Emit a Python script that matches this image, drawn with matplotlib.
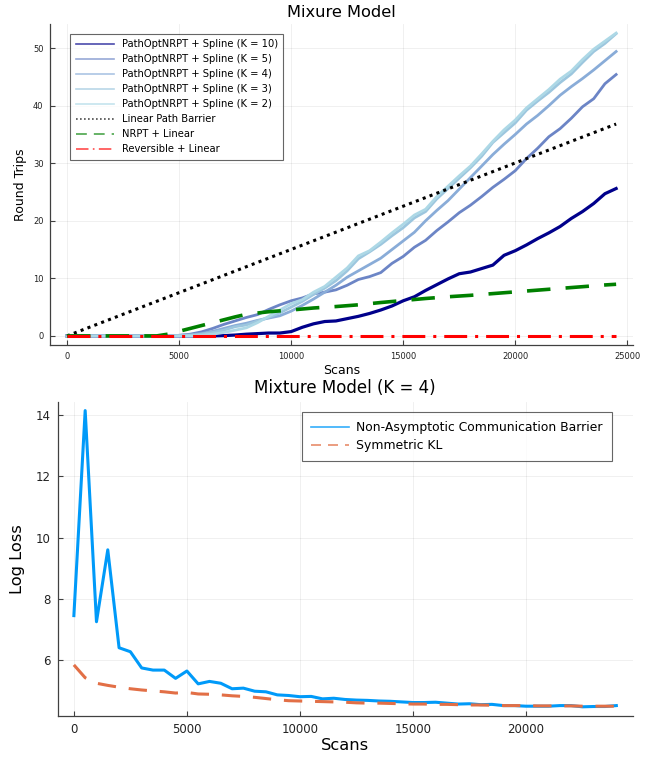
import matplotlib
matplotlib.use("Agg")
import matplotlib.pyplot as plt
import numpy as np

# ---------------- Top panel data ----------------
scans_top = list(range(0, 24501, 500))

k10 = [0, 0, 0, 0, 0, 0, 0, 0, 0, 0, 0, 0, 0, 0, 0.05, 0.15, 0.3, 0.4, 0.5, 0.5,
       0.75, 1.5, 2.1, 2.5, 2.6, 3.0, 3.4, 3.9, 4.5, 5.2, 6.1, 6.8, 7.9, 8.9, 9.9,
       10.8, 11.1, 11.7, 12.3, 14.0, 14.8, 15.8, 16.9, 17.9, 19.0, 20.4, 21.6,
       23.0, 24.7, 25.6]
k5 = [0, 0, 0, 0, 0, 0, 0, 0, 0, 0, 0.1, 0.3, 0.7, 1.3, 2.0, 2.6, 3.2, 3.7, 4.6,
      5.4, 6.1, 6.6, 7.3, 7.6, 8.0, 8.8, 9.8, 10.3, 11.0, 12.6, 13.8, 15.4, 16.6,
      18.3, 19.8, 21.4, 22.7, 24.2, 25.8, 27.2, 28.7, 30.8, 32.6, 34.6, 36.0,
      37.8, 39.8, 41.2, 43.8, 45.4]
k4 = [0, 0, 0, 0, 0, 0, 0, 0, 0, 0, 0.1, 0.2, 0.4, 0.8, 1.3, 1.8, 2.2, 2.7, 3.1,
      3.5, 4.3, 5.3, 6.4, 7.6, 8.8, 10.2, 11.3, 12.4, 13.5, 15.0, 16.5, 18.0,
      20.0, 21.8, 23.5, 25.5, 27.5, 29.5, 31.5, 33.3, 35.0, 36.8, 38.3, 40.0,
      41.8, 43.3, 44.7, 46.2, 47.8, 49.4]
k3 = [0, 0, 0, 0, 0, 0, 0, 0, 0, 0, 0, 0.1, 0.3, 0.6, 1.0, 1.6, 1.9, 2.6, 3.2,
      4.0, 5.0, 6.0, 7.2, 8.3, 9.6, 11.3, 13.4, 14.6, 15.9, 17.4, 18.8, 20.5,
      21.6, 23.8, 25.6, 27.4, 29.2, 31.2, 33.6, 35.3, 37.0, 39.2, 40.8, 42.3,
      44.0, 45.5, 47.5, 49.4, 50.8, 52.5]
k2 = [0, 0, 0, 0, 0, 0, 0, 0, 0, 0, 0, 0, 0.1, 0.3, 0.6, 1.0, 1.4, 2.3, 3.4, 4.5,
      5.6, 6.3, 7.6, 8.6, 10.2, 11.8, 13.9, 14.8, 16.3, 17.9, 19.4, 21.0, 22.0,
      24.2, 26.0, 27.8, 29.5, 31.6, 33.8, 35.8, 37.5, 39.6, 41.2, 42.8, 44.6,
      46.0, 48.0, 49.8, 51.2, 52.6]

barrier_x = [0, 24500]
barrier_y = [0, 36.8]

nrpt_x = [0, 1000, 2000, 3000, 4000, 4500, 5000, 5500, 6000, 6500, 7000, 7500,
          8000, 9000, 10000, 11000, 12000, 13000, 14000, 15000, 16000, 17000,
          18000, 19000, 20000, 21000, 22000, 23000, 24000, 24500]
nrpt_y = [0, 0, 0, 0, 0, 0.3, 0.8, 1.3, 1.8, 2.3, 2.8, 3.3, 3.75, 4.2, 4.5,
          4.85, 5.1, 5.4, 5.8, 6.15, 6.5, 6.8, 7.05, 7.35, 7.65, 7.95, 8.25,
          8.55, 8.85, 8.97]

rev_x = [0, 24500]
rev_y = [0, 0]

# ---------------- Bottom panel data ----------------
scans_bot = list(range(0, 24001, 500))
barrier_loss = [7.45, 14.15, 7.25, 9.6, 6.4, 6.27, 5.74, 5.67, 5.67, 5.40, 5.64,
                5.22, 5.30, 5.24, 5.06, 5.08, 4.98, 4.96, 4.86, 4.84, 4.80, 4.81,
                4.73, 4.75, 4.71, 4.69, 4.68, 4.66, 4.65, 4.63, 4.61, 4.61, 4.62,
                4.59, 4.56, 4.57, 4.54, 4.55, 4.51, 4.51, 4.49, 4.49, 4.49, 4.51,
                4.51, 4.47, 4.48, 4.48, 4.51]
skl_loss = [5.84, 5.42, 5.24, 5.17, 5.11, 5.06, 5.02, 4.99, 4.96, 4.92, 4.94,
            4.89, 4.88, 4.86, 4.83, 4.81, 4.78, 4.74, 4.70, 4.67, 4.66, 4.65,
            4.64, 4.63, 4.62, 4.60, 4.59, 4.59, 4.58, 4.57, 4.56, 4.56, 4.55,
            4.55, 4.54, 4.53, 4.53, 4.52, 4.51, 4.51, 4.51, 4.50, 4.50, 4.50,
            4.50, 4.49, 4.49, 4.49, 4.49]

plt.rcParams['font.family'] = ['DejaVu Sans']

fig = plt.figure(figsize=(6.5, 7.57), dpi=100)
W, H = 650, 757

def px_axes(l, t, r, b):
    return fig.add_axes([l / W, 1 - b / H, (r - l) / W, (b - t) / H])

ax1 = px_axes(50.5, 24, 632.6, 345)
ax2 = px_axes(57.6, 401.7, 632.6, 715.7)

def style(ax, tick_fs):
    for s in ['top', 'right']:
        ax.spines[s].set_visible(False)
    for s in ['left', 'bottom']:
        ax.spines[s].set_color('#404040')
        ax.spines[s].set_linewidth(0.9)
    ax.tick_params(direction='in', length=3.5, width=0.8, color='#404040',
                   labelsize=tick_fs, labelcolor='#222222', pad=5)
    ax.grid(True, color='black', alpha=0.07, linewidth=0.6)
    ax.set_axisbelow(True)

# ---- Top ----
blue_cols = {'10': '#00008b', '5': '#6c85c6', '4': '#89acd8', '3': '#9cc6de', '2': '#add8e6'}
ax1.plot(scans_top, k10, color=blue_cols['10'], lw=2.3, label='PathOptNRPT + Spline (K = 10)')
ax1.plot(scans_top, k5, color=blue_cols['5'], lw=2.0, label='PathOptNRPT + Spline (K = 5)')
ax1.plot(scans_top, k4, color=blue_cols['4'], lw=2.0, label='PathOptNRPT + Spline (K = 4)')
ax1.plot(scans_top, k3, color=blue_cols['3'], lw=2.0, label='PathOptNRPT + Spline (K = 3)')
ax1.plot(scans_top, k2, color=blue_cols['2'], lw=2.0, label='PathOptNRPT + Spline (K = 2)')
ax1.plot(barrier_x, barrier_y, color='black', lw=2.2, dashes=(1, 1.4),
         label='Linear Path Barrier')
ax1.plot(nrpt_x, nrpt_y, color='#008000', lw=2.6, dashes=(6.5, 4.2),
         label='NRPT + Linear')
ax1.plot(rev_x, rev_y, color='#ff0000', lw=2.2, dashes=(7.5, 2.6, 1, 2.6),
         label='Reversible + Linear')

ax1.margins(x=0.03, y=0.03)
ax1.set_xticks([0, 5000, 10000, 15000, 20000, 25000])
ax1.set_yticks([0, 10, 20, 30, 40, 50])
style(ax1, 6.0)
ax1.set_xlabel('Scans', fontsize=9, labelpad=2)
ax1.set_ylabel('Round Trips', fontsize=9, labelpad=4)
ax1.set_title('Mixure Model', fontsize=11.7, pad=5)
leg1 = ax1.legend(loc='upper left', bbox_to_anchor=(0.0335, 0.969), fontsize=7.2,
                  frameon=True, fancybox=False, edgecolor='#404040',
                  handlelength=3.8, handletextpad=0.8, labelspacing=0.5,
                  borderpad=0.55, borderaxespad=0)
leg1.get_frame().set_linewidth(0.8)
for h in leg1.get_lines():
    h.set_linewidth(1.2)
    h.set_alpha(0.7)

# ---- Bottom ----
ax2.plot(scans_bot, barrier_loss, color='#009af9', lw=2.2,
         label='Non-Asymptotic Communication Barrier')
ax2.plot(scans_bot, skl_loss, color='#e26f46', lw=2.2, dashes=(6, 4.2),
         label='Symmetric KL')
ax2.margins(x=0.03, y=0.03)
ax2.set_xticks([0, 5000, 10000, 15000, 20000])
ax2.set_yticks([6, 8, 10, 12, 14])
style(ax2, 8.5)
ax2.set_xlabel('Scans', fontsize=11.7, labelpad=2)
ax2.set_ylabel('Log Loss', fontsize=11.7, labelpad=8)
ax2.set_title('Mixture Model (K = 4)', fontsize=12, pad=6)
leg2 = ax2.legend(loc='upper right', bbox_to_anchor=(0.9637, 0.968), fontsize=8.9,
                  frameon=True, fancybox=False, edgecolor='#404040',
                  handlelength=3.0, handletextpad=0.6, labelspacing=0.4,
                  borderpad=0.75, borderaxespad=0)
leg2.get_frame().set_linewidth(0.8)
for h in leg2.get_lines():
    h.set_linewidth(1.2)
    h.set_alpha(0.8)

fig.savefig('out.png', dpi=100)
